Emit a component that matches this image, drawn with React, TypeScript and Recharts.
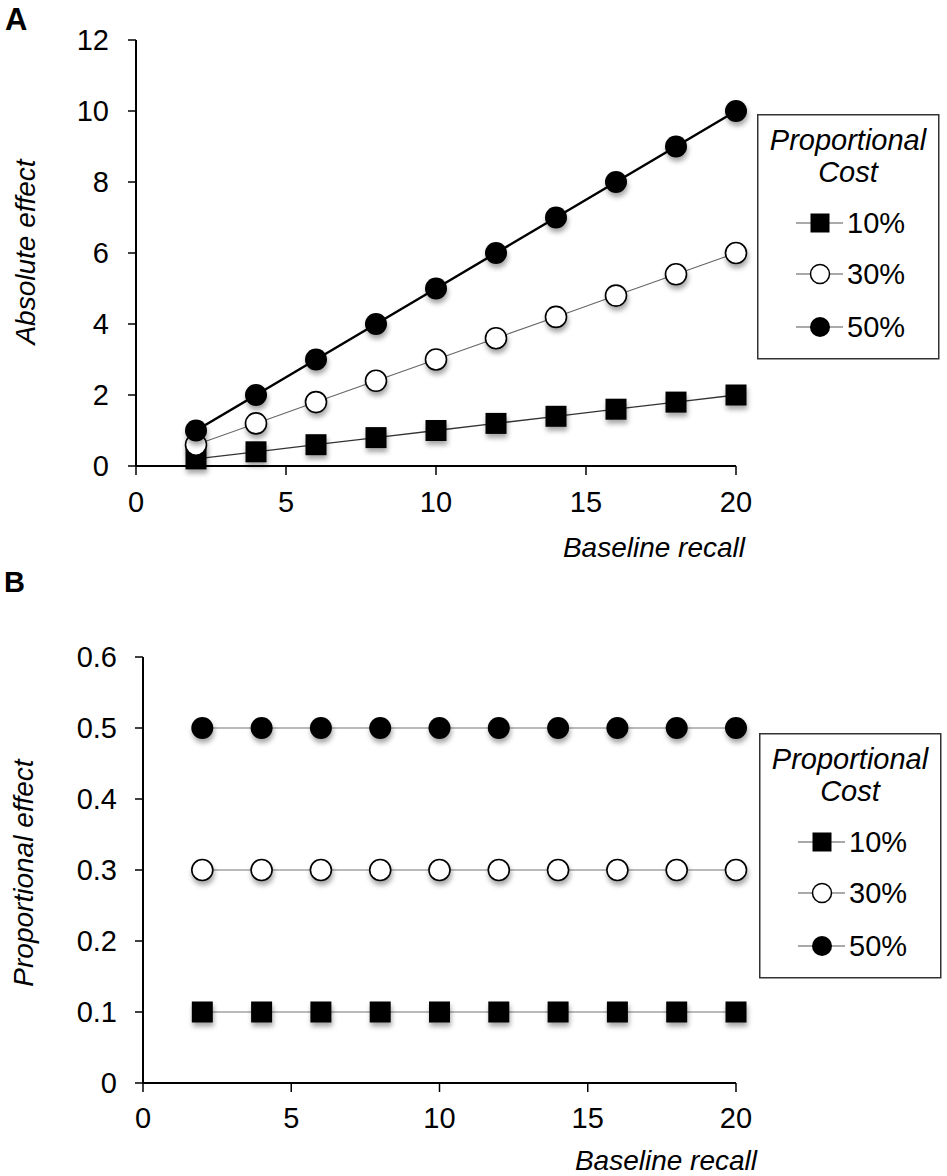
import React from 'react';
import { LineChart, Line, XAxis, YAxis } from 'recharts';

// baseline recall values (x)
const baseline = [2, 4, 6, 8, 10, 12, 14, 16, 18, 20];

// panel A: absolute effect for each proportional cost
const abs10 = [0.2, 0.4, 0.6, 0.8, 1.0, 1.2, 1.4, 1.6, 1.8, 2.0];
const abs30 = [0.6, 1.2, 1.8, 2.4, 3.0, 3.6, 4.2, 4.8, 5.4, 6.0];
const abs50 = [1, 2, 3, 4, 5, 6, 7, 8, 9, 10];

// panel B: proportional effect for each proportional cost
const prop10 = [0.1, 0.1, 0.1, 0.1, 0.1, 0.1, 0.1, 0.1, 0.1, 0.1];
const prop30 = [0.3, 0.3, 0.3, 0.3, 0.3, 0.3, 0.3, 0.3, 0.3, 0.3];
const prop50 = [0.5, 0.5, 0.5, 0.5, 0.5, 0.5, 0.5, 0.5, 0.5, 0.5];

const xTicks = [0, 5, 10, 15, 20];
const absTicks = [0, 2, 4, 6, 8, 10, 12];
const propTicks = [0, 0.1, 0.2, 0.3, 0.4, 0.5, 0.6];
const legendLabels = ['10%', '30%', '50%'];

const absData = baseline.map((x, i) => ({ x, p10: abs10[i], p30: abs30[i], p50: abs50[i] }));
const propData = baseline.map((x, i) => ({ x, p10: prop10[i], p30: prop30[i], p50: prop50[i] }));

const FONT = '"Liberation Sans", Arial, Helvetica, sans-serif';
const shadow = 'drop-shadow(1px 4px 2.5px rgba(0,0,0,0.35))';
const tickStyle = { fontSize: 29, fill: '#000', fontFamily: FONT };

const SquareDot = (props: any) => {
  const { cx, cy, index } = props;
  if (cx == null || cy == null) return null;
  return <rect key={`s${index}`} x={cx - 10.5} y={cy - 10.5} width={21} height={21} fill="#000" style={{ filter: shadow }} />;
};

const OpenDot = (props: any) => {
  const { cx, cy, index } = props;
  if (cx == null || cy == null) return null;
  return <circle key={`o${index}`} cx={cx} cy={cy} r={10.5} fill="#fff" stroke="#000" strokeWidth={1.6} style={{ filter: shadow }} />;
};

const FilledDot = (props: any) => {
  const { cx, cy, index } = props;
  if (cx == null || cy == null) return null;
  return <circle key={`f${index}`} cx={cx} cy={cy} r={11} fill="#000" style={{ filter: shadow }} />;
};

const LegendBox = ({ left, top }: { left: number; top: number }) => (
  <svg
    width={183}
    height={246}
    style={{ position: 'absolute', left, top, overflow: 'visible' }}
  >
    <rect x={0.75} y={0.75} width={181} height={244} fill="#fff" stroke="#333" strokeWidth={1.5} />
    <text x={91} y={36} textAnchor="middle" fontSize={29} fontStyle="italic" fontFamily={FONT}>Proportional</text>
    <text x={91} y={68} textAnchor="middle" fontSize={29} fontStyle="italic" fontFamily={FONT}>Cost</text>
    {legendLabels.map((lab, i) => {
      const cy = [109, 160, 213][i];
      return (
        <g key={lab}>
          <line x1={39} x2={86} y1={cy} y2={cy} stroke="#555" strokeWidth={1.2} />
          {i === 0 && <rect x={53.5} y={cy - 9.5} width={19} height={19} fill="#000" />}
          {i === 1 && <circle cx={63} cy={cy} r={9.5} fill="#fff" stroke="#000" strokeWidth={1.5} />}
          {i === 2 && <circle cx={63} cy={cy} r={10} fill="#000" />}
          <text x={90} y={cy + 10} fontSize={29} fontFamily={FONT}>{lab}</text>
        </g>
      );
    })}
  </svg>
);

const App: React.FC = () => {
  return (
    <div style={{ position: 'absolute', left: 0, top: 0, width: 947, height: 1176, background: '#fff', fontFamily: FONT }}>
      {/* panel A */}
      <div style={{ position: 'absolute', left: 0, top: 0 }}>
        <LineChart width={947} height={580} data={absData} margin={{ top: 40, right: 211, bottom: 54, left: 76 }}>
          <XAxis
            dataKey="x"
            type="number"
            domain={[0, 20]}
            ticks={xTicks}
            interval={0}
            height={60}
            tickSize={9}
            tickMargin={16}
            tick={tickStyle}
            axisLine={{ stroke: '#000', strokeWidth: 2 }}
            tickLine={{ stroke: '#000', strokeWidth: 1.5 }}
          />
          <YAxis
            type="number"
            domain={[0, 12]}
            ticks={absTicks}
            interval={0}
            width={60}
            tickSize={8}
            tickMargin={19}
            tick={tickStyle}
            axisLine={{ stroke: '#000', strokeWidth: 2 }}
            tickLine={{ stroke: '#000', strokeWidth: 1.5 }}
          />
          <Line dataKey="p10" stroke="#333" strokeWidth={1.3} dot={SquareDot} activeDot={false} isAnimationActive={false} />
          <Line dataKey="p30" stroke="#666" strokeWidth={1.1} dot={OpenDot} activeDot={false} isAnimationActive={false} />
          <Line dataKey="p50" stroke="#000" strokeWidth={2.5} dot={FilledDot} activeDot={false} isAnimationActive={false} />
        </LineChart>
      </div>

      {/* panel B */}
      <div style={{ position: 'absolute', left: 0, top: 580 }}>
        <LineChart width={947} height={596} data={propData} margin={{ top: 77, right: 211, bottom: 33, left: 83 }}>
          <XAxis
            dataKey="x"
            type="number"
            domain={[0, 20]}
            ticks={xTicks}
            interval={0}
            height={60}
            tickSize={9}
            tickMargin={15}
            tick={tickStyle}
            axisLine={{ stroke: '#000', strokeWidth: 2 }}
            tickLine={{ stroke: '#000', strokeWidth: 1.5 }}
          />
          <YAxis
            type="number"
            domain={[0, 0.6]}
            ticks={propTicks}
            interval={0}
            width={60}
            tickSize={8}
            tickMargin={18}
            tick={tickStyle}
            tickFormatter={(v: number) => (v === 0 ? '0' : v.toFixed(1))}
            axisLine={{ stroke: '#000', strokeWidth: 2 }}
            tickLine={{ stroke: '#000', strokeWidth: 1.5 }}
          />
          <Line dataKey="p10" stroke="#777" strokeWidth={1.1} dot={SquareDot} activeDot={false} isAnimationActive={false} />
          <Line dataKey="p30" stroke="#777" strokeWidth={1.1} dot={OpenDot} activeDot={false} isAnimationActive={false} />
          <Line dataKey="p50" stroke="#777" strokeWidth={1.1} dot={FilledDot} activeDot={false} isAnimationActive={false} />
        </LineChart>
      </div>

      {/* titles and panel letters */}
      <svg width={947} height={1176} style={{ position: 'absolute', left: 0, top: 0, pointerEvents: 'none' }}>
        <text x={5} y={30} fontSize={31} fontWeight="bold" fontFamily={FONT}>A</text>
        <text x={4} y={592} fontSize={29} fontWeight="bold" fontFamily={FONT}>B</text>
        <text x={35} y={252} transform="rotate(-90 35 252)" textAnchor="middle" fontSize={28} fontStyle="italic" fontFamily={FONT}>Absolute effect</text>
        <text x={33} y={873} transform="rotate(-90 33 873)" textAnchor="middle" fontSize={28} fontStyle="italic" fontFamily={FONT}>Proportional effect</text>
        <text x={745} y={557} textAnchor="end" fontSize={28} fontStyle="italic" fontFamily={FONT}>Baseline recall</text>
        <text x={757} y={1170} textAnchor="end" fontSize={28} fontStyle="italic" fontFamily={FONT}>Baseline recall</text>
      </svg>

      <LegendBox left={757} top={114} />
      <LegendBox left={759} top={733} />
    </div>
  );
};

export default App;
